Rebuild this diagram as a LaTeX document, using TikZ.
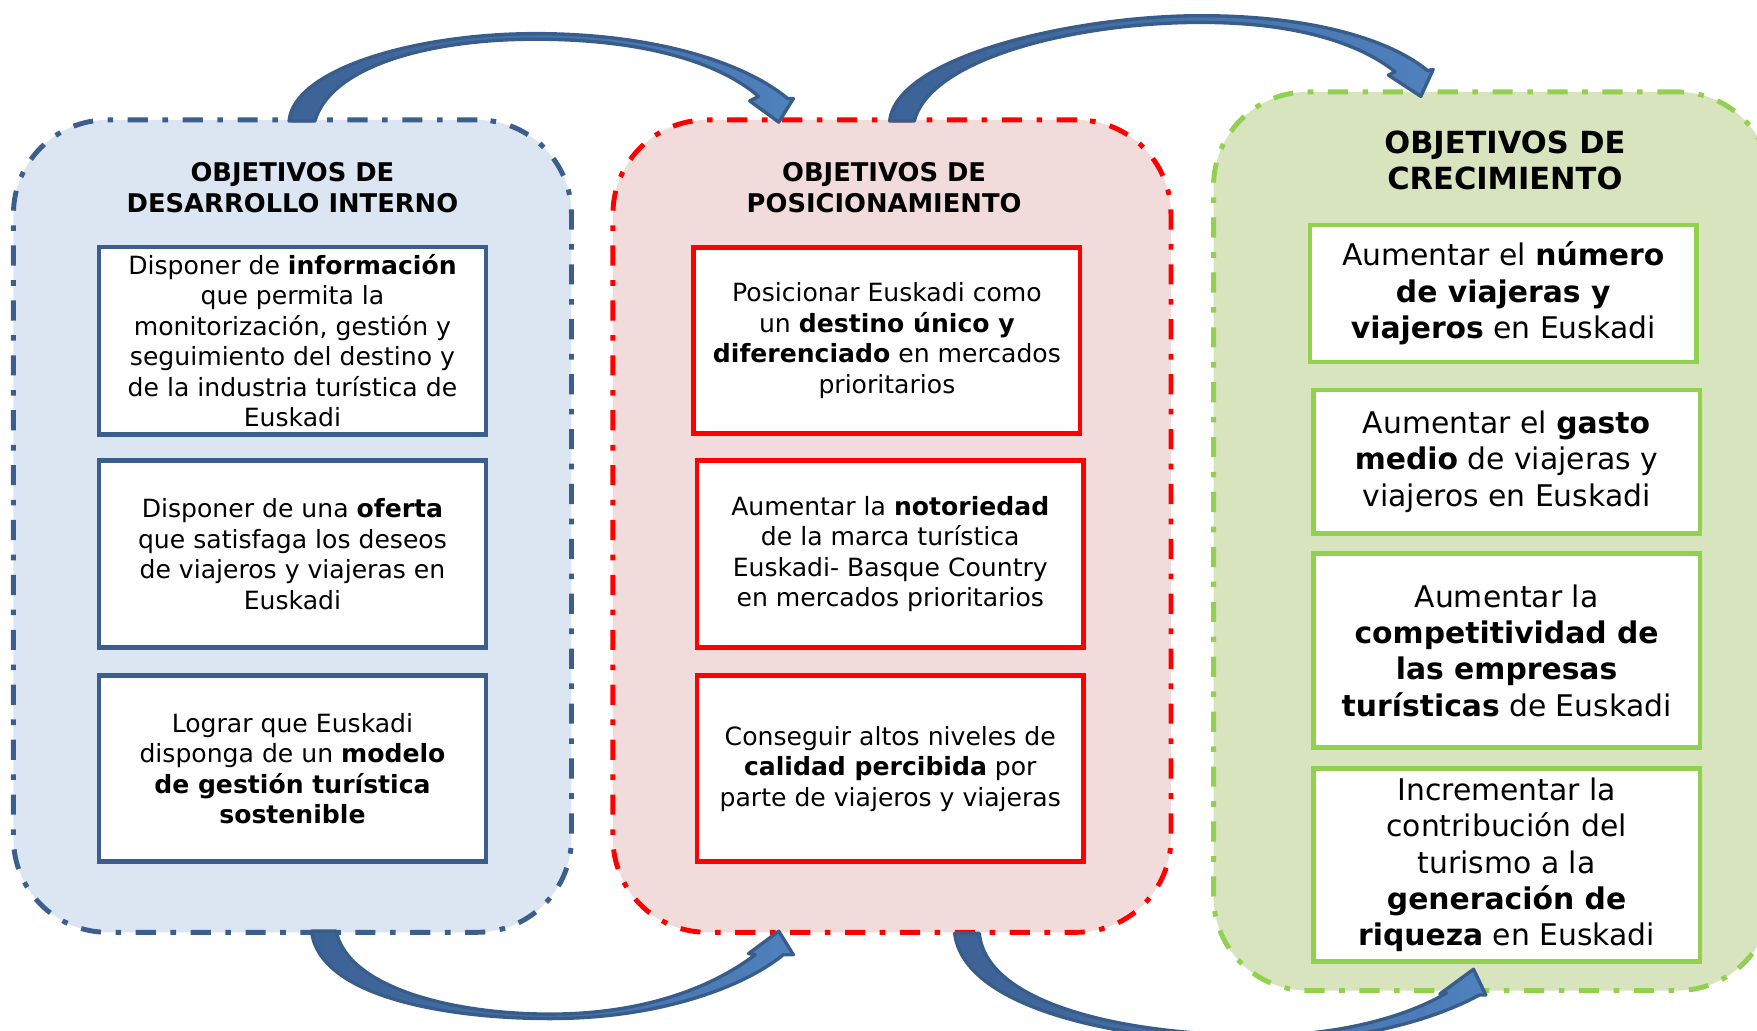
\documentclass[tikz,border=0pt]{standalone}
\usepackage{fontspec}
\setmainfont{DejaVu Sans}
\definecolor{devfill}{HTML}{DCE6F2}
\definecolor{devline}{HTML}{3B5E8C}
\definecolor{posfill}{HTML}{F2DCDB}
\definecolor{posline}{HTML}{FF0000}
\definecolor{crefill}{HTML}{D7E4BD}
\definecolor{creline}{HTML}{92D050}
\definecolor{arrowdark}{HTML}{3C6296}
\definecolor{arrowlight}{HTML}{4F81BD}
\definecolor{arrowline}{HTML}{385D8A}
\begin{document}
\begin{tikzpicture}[x=0.5pt,y=-0.5pt,
  panel/.style={rounded corners=42pt, line width=2.2pt,
    dash pattern=on 9pt off 6.5pt on 2.5pt off 6.5pt, minimum width=249pt},
  heading/.style={align=center, font=\bfseries\fontsize{11.5}{13.5}\selectfont},
  aim/.style={draw, fill=white, line width=2pt, align=center,
    minimum width=172.5pt, font=\fontsize{11.2}{13.6}\selectfont},
  bigaim/.style={aim, font=\fontsize{13.3}{16.2}\selectfont},
  curvarrow/.style={draw=arrowline, line width=1.5pt, line join=round,
    left color=arrowdark, right color=arrowlight}]
  \useasboundingbox (0,0) rectangle (1568,920);
  % desarrollo interno
  \begin{scope}[shift={(261,0)}]
    \node[panel, draw=devline, fill=devfill, minimum height=362.5pt] (dev) at (0,469.5) {};
    \node[heading] (devtitle) at (0,167.5) {OBJETIVOS DE\\DESARROLLO INTERNO};
    \node[aim, draw=devline, minimum height=83pt] (dev1) at (0,304)
      {Disponer de \textbf{información}\\que permita la\\monitorización, gestión y\\seguimiento del destino y\\de la industria turística de\\Euskadi};
    \node[aim, draw=devline, minimum height=83.5pt] (dev2) at (0,494.5)
      {Disponer de una \textbf{oferta}\\que satisfaga los deseos\\de viajeros y viajeras en\\Euskadi};
    \node[aim, draw=devline, minimum height=83pt] (dev3) at (0,686)
      {Lograr que Euskadi\\disponga de un \textbf{modelo}\\\textbf{de gestión turística}\\\textbf{sostenible}};
  \end{scope}
  % posicionamiento
  \begin{scope}[shift={(794,0)}]
    \node[panel, draw=posline, fill=posfill, minimum height=362.5pt] (pos) at (2,469.5) {};
    \node[heading] (postitle) at (-5,167.5) {OBJETIVOS DE\\POSICIONAMIENTO};
    \node[aim, draw=posline, minimum height=83pt] (pos1) at (-2.5,304)
      {Posicionar Euskadi como\\un \textbf{destino único y}\\\textbf{diferenciado} en mercados\\prioritarios};
    \node[aim, draw=posline, minimum height=83.5pt] (pos2) at (0.5,494.5)
      {Aumentar la \textbf{notoriedad}\\de la marca turística\\Euskadi- Basque Country\\en mercados prioritarios};
    \node[aim, draw=posline, minimum height=83pt] (pos3) at (0.5,686)
      {Conseguir altos niveles de\\\textbf{calidad percibida} por\\parte de viajeros y viajeras};
  \end{scope}
  % crecimiento
  \begin{scope}[shift={(1343,0)}]
    \node[panel, draw=creline, fill=crefill, minimum height=401pt] (cre) at (-11,483) {};
    \node[heading, font=\bfseries\fontsize{13.6}{16}\selectfont] (cretitle) at (0,143)
      {OBJETIVOS DE\\CRECIMIENTO};
    \node[bigaim, draw=creline, minimum height=61pt] (cre1) at (-1.5,262)
      {Aumentar el \textbf{número}\\\textbf{de viajeras y}\\\textbf{viajeros} en Euskadi};
    \node[bigaim, draw=creline, minimum height=64pt] (cre2) at (1.5,412)
      {Aumentar el \textbf{gasto}\\\textbf{medio} de viajeras y\\viajeros en Euskadi};
    \node[bigaim, draw=creline, minimum height=86.5pt] (cre3) at (1.5,580.5)
      {Aumentar la\\\textbf{competitividad de}\\\textbf{las empresas}\\\textbf{turísticas} de Euskadi};
    \node[bigaim, draw=creline, minimum height=86pt] (cre4) at (1.5,772)
      {Incrementar la\\contribución del\\turismo a la\\\textbf{generación de}\\\textbf{riqueza} en Euskadi};
  \end{scope}
  % curved block arrows over the top
  \filldraw[curvarrow] (258,108) .. controls (262,62) and (370,30) .. (478,30)
                  .. controls (580,30) and (662,54) .. (703,88)
                  -- (708,88) -- (695,109) -- (669,90) -- (677,86)
                  .. controls (640,54) and (570,35) .. (478,35)
                  .. controls (380,35) and (295,60) .. (281,108) -- cycle;
  \filldraw[curvarrow] (794,108) .. controls (800,50) and (960,14) .. (1072,14)
                  .. controls (1170,14) and (1240,35) .. (1274,63)
                  -- (1279,62) -- (1268,86) -- (1239,67) -- (1245,64)
                  .. controls (1210,36) and (1150,20) .. (1072,20)
                  .. controls (960,20) and (830,52) .. (816,108) -- cycle;
  % and under the bottom
  \filldraw[curvarrow] (278,831) .. controls (285,890) and (400,909) .. (491,909)
                  .. controls (590,909) and (665,880) .. (699,852)
                  -- (708,852) -- (695,831) -- (668,851) -- (674,852)
                  .. controls (640,878) and (580,905) .. (491,905)
                  .. controls (400,905) and (310,880) .. (300,831) -- cycle;
  \filldraw[curvarrow] (852,833) .. controls (860,900) and (1000,930) .. (1126,930)
                  .. controls (1210,930) and (1280,910) .. (1320,888)
                  -- (1326,888) -- (1315,865) -- (1285,887) -- (1291,886)
                  .. controls (1260,905) and (1200,924) .. (1126,924)
                  .. controls (1000,924) and (880,895) .. (874,833) -- cycle;
\end{tikzpicture}
\end{document}
